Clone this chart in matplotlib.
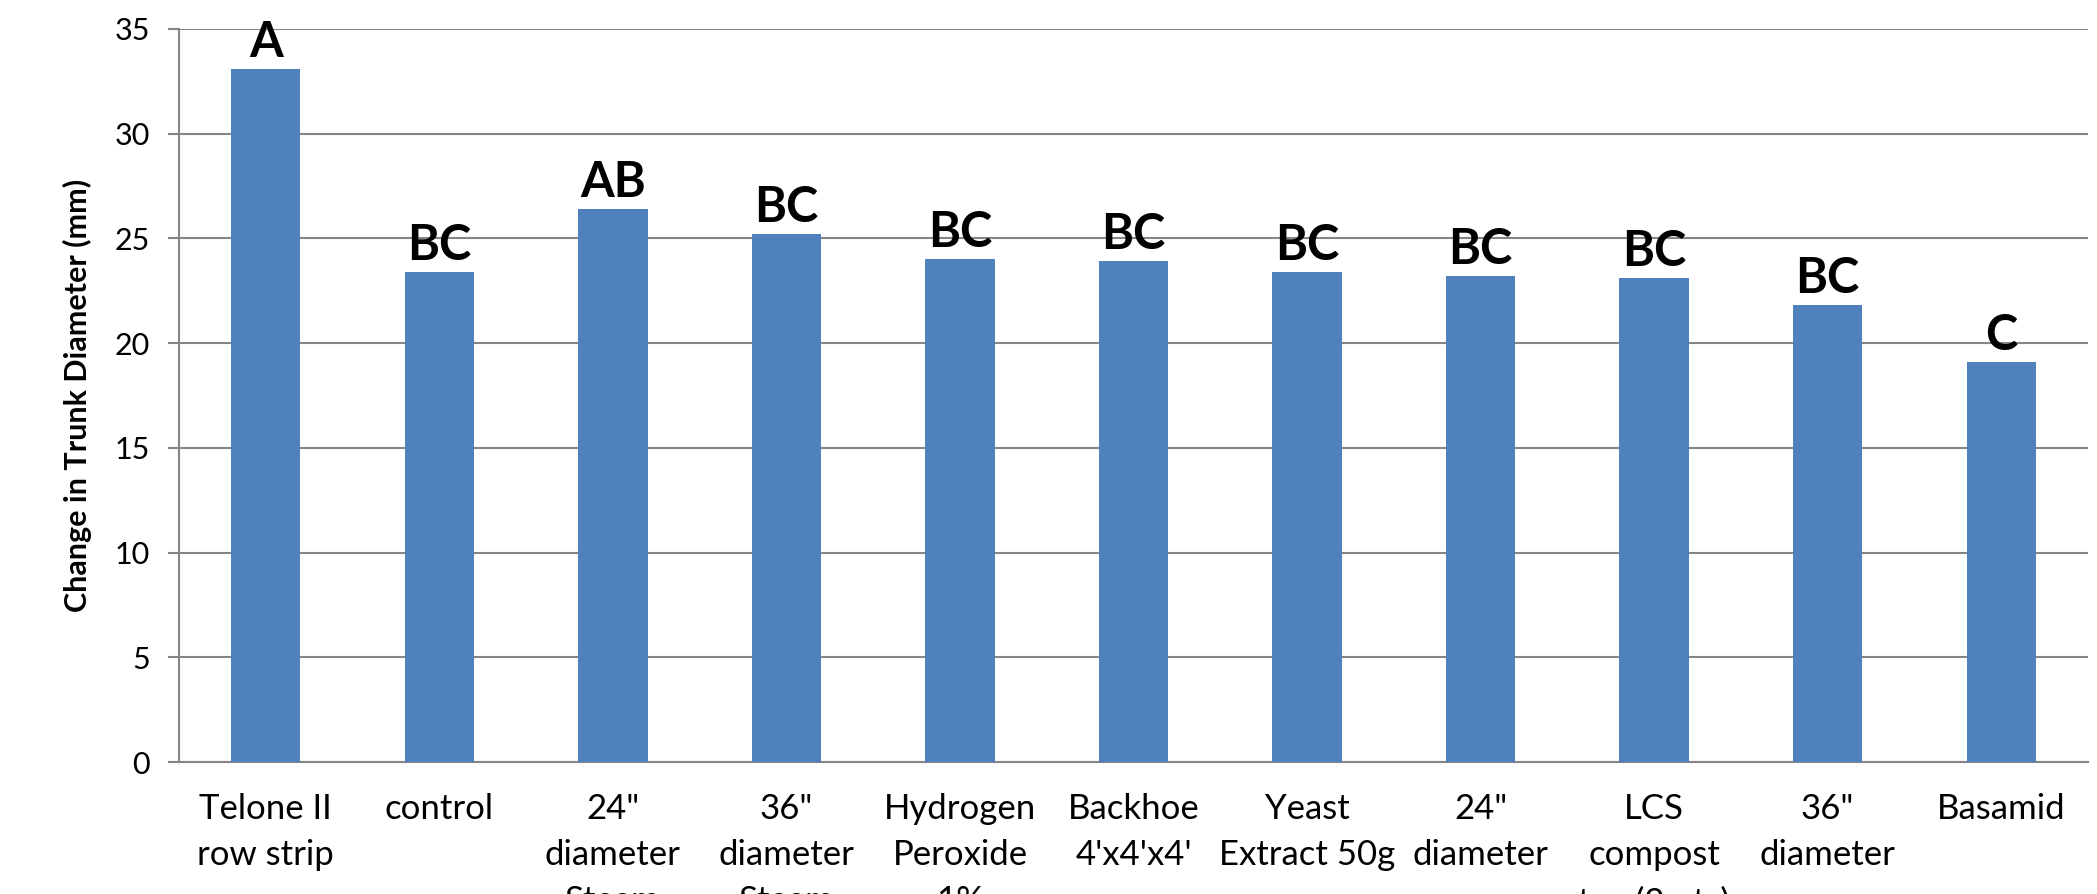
import matplotlib
matplotlib.use("Agg")
import matplotlib.pyplot as plt

categories = ["Telone II\nrow strip", "control", "24\"\ndiameter\nSteam", "36\"\ndiameter\nSteam",
              "Hydrogen\nPeroxide\n1%", "Backhoe\n4'x4'x4'", "Yeast\nExtract 50g", "24\"\ndiameter",
              "LCS\ncompost\ntea (2 qts)", "36\"\ndiameter", "Basamid"]
values = [33.1, 23.4, 26.4, 25.2, 24.0, 23.9, 23.4, 23.2, 23.1, 21.8, 19.1]
letters = ["A", "BC", "AB", "BC", "BC", "BC", "BC", "BC", "BC", "BC", "C"]
yticks = [0, 5, 10, 15, 20, 25, 30, 35]

plt.rcParams['font.family'] = ['Lato', 'DejaVu Sans']

fig = plt.figure(figsize=(20.97, 8.94), dpi=100)
ax = fig.add_axes([179/2097, 1-762/894, (2088-179)/2097, (762-29)/894])

x = list(range(len(categories)))
ax.bar(x, values, width=0.4, color="#4F81BD", zorder=3)
for xi, v, t in zip(x, values, letters):
    ax.text(xi, v + 0.2, t, ha="center", va="bottom", fontsize=35, fontweight="bold", color="black")

ax.set_xlim(-0.5, len(categories) - 0.5)
ax.set_ylim(0, 35)
ax.set_yticks(yticks)
ax.set_yticklabels([str(t) for t in yticks], fontsize=22)
ax.yaxis.grid(True, color="#868686", linewidth=1.5, zorder=0)
ax.set_xticks(x)
ax.set_xticklabels(categories, fontsize=25, linespacing=1.55)
ax.tick_params(axis="x", length=0, pad=22)
ax.tick_params(axis="y", length=8, width=1.5, color="#868686", pad=13)
for s in ["top", "right"]:
    ax.spines[s].set_visible(False)
for s in ["left", "bottom"]:
    ax.spines[s].set_color("#868686")
    ax.spines[s].set_linewidth(1.5)
ax.set_ylabel("Change in Trunk Diameter (mm)", fontsize=22, fontweight="bold", labelpad=16)

fig.savefig("out.png", dpi=100)
